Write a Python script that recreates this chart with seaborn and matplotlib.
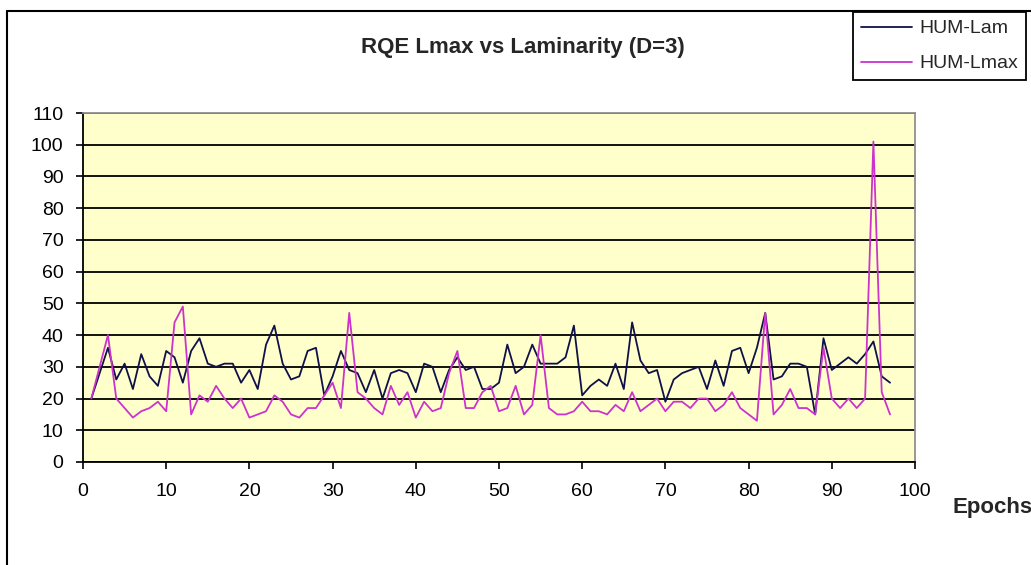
import numpy as np
import pandas as pd
import matplotlib.pyplot as plt
import seaborn as sns
from matplotlib.lines import Line2D

# Data (one value per epoch)
epochs = list(range(1, 98))
hum_lam = [20, 28, 36, 26, 31, 23, 34, 27, 24, 35,
           33, 25, 35, 39, 31, 30, 31, 31, 25, 29,
           23, 37, 43, 31, 26, 27, 35, 36, 21, 27,
           35, 29, 28, 22, 29, 20, 28, 29, 28, 22,
           31, 30, 22, 29, 33, 29, 30, 23, 23, 25,
           37, 28, 30, 37, 31, 31, 31, 33, 43, 21,
           24, 26, 24, 31, 23, 44, 32, 28, 29, 19,
           26, 28, 29, 30, 23, 32, 24, 35, 36, 28,
           36, 47, 26, 27, 31, 31, 30, 15, 39, 29,
           31, 33, 31, 34, 38, 27, 25]
hum_lmax = [20, 30, 40, 20, 17, 14, 16, 17, 19, 16,
            44, 49, 15, 21, 19, 24, 20, 17, 20, 14,
            15, 16, 21, 19, 15, 14, 17, 17, 21, 25,
            17, 47, 22, 20, 17, 15, 24, 18, 22, 14,
            19, 16, 17, 28, 35, 17, 17, 22, 24, 16,
            17, 24, 15, 18, 40, 17, 15, 15, 16, 19,
            16, 16, 15, 18, 16, 22, 16, 18, 20, 16,
            19, 19, 17, 20, 20, 16, 18, 22, 17, 15,
            13, 47, 15, 18, 23, 17, 17, 15, 36, 20,
            17, 20, 17, 20, 101, 22, 15]

x_ticks = list(range(0, 101, 10))
y_ticks = list(range(0, 111, 10))

sns.set_style("white")
plt.rcParams['font.family'] = ['Liberation Sans', 'DejaVu Sans']

W, H = 1031, 565
fig = plt.figure(figsize=(W / 100, H / 100), dpi=100)
ax = fig.add_axes([83 / W, 1 - 462 / H, (915 - 83) / W, (462 - 113) / H])
ax.set_facecolor('#FFFFCC')

sns.lineplot(x=epochs, y=hum_lam, ax=ax, color='#10104a', lw=1.3, label='HUM-Lam')
sns.lineplot(x=epochs, y=hum_lmax, ax=ax, color='#CC33CC', lw=1.3, label='HUM-Lmax')

ax.set_xlim(0, 100)
ax.set_ylim(0, 110)
ax.set_xticks(x_ticks)
ax.set_yticks(y_ticks)
ax.set_xlabel('')
ax.set_ylabel('')

# horizontal black gridlines like Excel
ax.yaxis.grid(True, color='black', lw=1.3)
ax.xaxis.grid(False)
ax.set_axisbelow(True)

for side in ['left', 'bottom']:
    ax.spines[side].set_color('black')
    ax.spines[side].set_linewidth(1.3)
for side in ['top', 'right']:
    ax.spines[side].set_color('#909090')
    ax.spines[side].set_linewidth(1.3)

ax.tick_params(bottom=True, left=True, direction='out', length=5, width=1.2,
               color='black', labelsize=14, labelcolor='black')
ax.tick_params(axis='y', pad=9)
ax.tick_params(axis='x', pad=10)

# legend at the top right of the chart area
handles, labels = ax.get_legend_handles_labels()
ax.get_legend().remove()
leg = fig.legend(handles, labels, loc='upper right',
                 bbox_to_anchor=(1026 / W, 1 - 12 / H), frameon=True,
                 fancybox=False, edgecolor='black', framealpha=1, fontsize=14,
                 handlelength=2.6, handletextpad=0.4, labelspacing=0.9,
                 borderpad=0.4, borderaxespad=0)
leg.get_frame().set_linewidth(1.3)

fig.text(523 / W, 1 - 47 / H, 'RQE Lmax vs Laminarity (D=3)', ha='center',
         va='center', fontsize=16, fontweight='bold')
fig.text(952 / W, 1 - 507 / H, 'Epochs', ha='left', va='center',
         fontsize=16, fontweight='bold')

# outer chart border (left and top edges visible)
fig.add_artist(Line2D([7 / W, 7 / W], [0, 1 - 11 / H], transform=fig.transFigure,
                      color='black', lw=1.5))
fig.add_artist(Line2D([7 / W, 1], [1 - 11 / H, 1 - 11 / H], transform=fig.transFigure,
                      color='black', lw=1.5))

fig.savefig('out.png', dpi=100)
